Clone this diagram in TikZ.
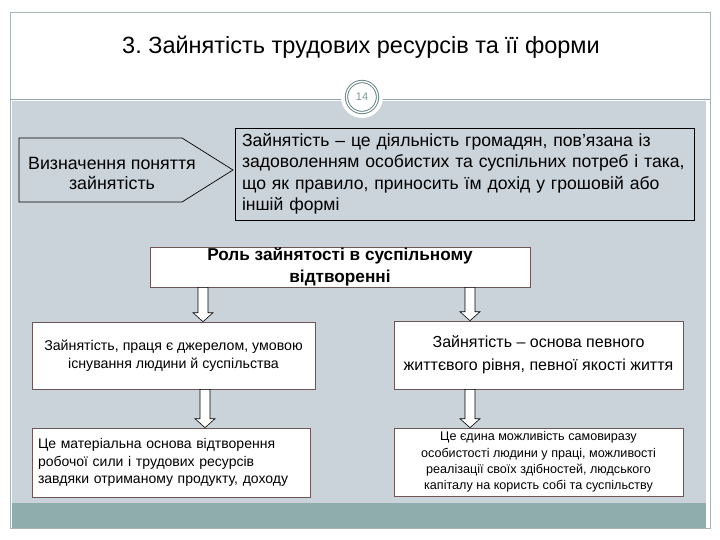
\documentclass[tikz,border=0pt]{standalone}
\usepackage{fontspec}
\setmainfont{Liberation Sans}
\usetikzlibrary{calc}
\frenchspacing
\definecolor{panelbg}{HTML}{C9D3D9}
\definecolor{stripcol}{HTML}{8FADAC}
\definecolor{framecol}{HTML}{A9B4B4}
\definecolor{ringcol}{HTML}{5F7F7E}
\definecolor{boxline}{HTML}{6E5656}
\definecolor{shapefill}{HTML}{CBD4DA}
\newcommand{\blockdown}[3]{%
  \draw[barrow] let \p1=(#1,0 |- #2.south), \p2=(#1,0 |- #3.north) in
   ({\x1-5pt},\y1) -- ({\x1-5pt},{\y2+9pt}) -- ({\x1-10pt},{\y2+9pt}) -- (\x1,\y2)
   -- ({\x1+10pt},{\y2+9pt}) -- ({\x1+5pt},{\y2+9pt}) -- ({\x1+5pt},\y1) -- cycle;}
\begin{document}
\begin{tikzpicture}[x=1pt,y=-1pt,
  wbox/.style={draw=boxline, fill=white, line width=0.6pt, inner sep=0pt},
  barrow/.style={draw=black, fill=white, line width=0.6pt, line join=miter},
  gbox/.style={draw=black, fill=shapefill, line width=0.7pt}]
\useasboundingbox (0,0) rectangle (720,540);
\fill[white] (0,0) rectangle (720,540);
% panel
\fill[panelbg] (12,101) rectangle (706,503);
\fill[stripcol] (12,503) rectangle (706,528);
\draw[framecol, line width=0.6pt] (10,12) rectangle (710,528);
\draw[ringcol!70, line width=0.8pt] (10,99) -- (710,99);
% title
\node[font=\fontsize{23.5}{28}\selectfont] (title) at (361,47) {3. Зайнятість трудових ресурсів та її форми};
% page number circle
\fill[white] (362,97) circle (21);
\node[circle, draw=ringcol, double=white, double distance=1.4pt, line width=0.9pt,
      fill=white, minimum size=31pt, inner sep=0pt, text=ringcol!80,
      font=\fontsize{11}{13}\selectfont]
  (num) at (362,97) {14};
% pentagon
\draw[gbox] (19,138) -- (182,138) -- (233,170) -- (182,202) -- (19,202) -- cycle;
\node[align=center, font=\fontsize{17.8}{20}\selectfont] (defhead) at (112,173.5)
  {Визначення поняття\\зайнятість};
% definition
\node[gbox, minimum width=459pt, minimum height=92pt, text width=445pt,
      inner xsep=7pt, align=left, font=\fontsize{17.6}{21.5}\selectfont] (def) at (464.5,174)
  {Зайнятість -- це діяльність громадян, пов’язана із\\
   задоволенням особистих та суспільних потреб і така,\\
   що як правило, приносить їм дохід у грошовій або\\
   іншій формі};
% role
\node[wbox, minimum width=380pt, minimum height=40pt, align=center,
      font=\fontsize{17.2}{22}\selectfont\bfseries] (role) at (340,267)
  {Роль зайнятості в суспільному\\відтворенні};
% middle row
\node[wbox, minimum width=283pt, minimum height=67pt, align=center,
      font=\fontsize{14.2}{18.5}\selectfont] (a) at (173.5,355.5)
  {Зайнятість, праця є джерелом, умовою\\існування людини й суспільства};
\node[wbox, minimum width=289pt, minimum height=68pt, align=center,
      font=\fontsize{16}{23}\selectfont] (b) at (538.5,355)
  {Зайнятість -- основа певного\\життєвого рівня, певної якості життя};
% bottom row
\node[wbox, minimum width=278pt, minimum height=69pt, text width=266pt, inner xsep=6pt,
      align=left, font=\fontsize{14}{17.5}\selectfont] (c) at (171,462.5)
  {Це матеріальна основа відтворення\\робочої сили і трудових ресурсів\\завдяки отриманому продукту, доходу};
\node[wbox, minimum width=289pt, minimum height=68pt, align=center,
      font=\fontsize{12.6}{16.4}\selectfont] (d) at (538.5,462)
  {Це єдина можливість самовиразу\\особистості людини у праці, можливості\\реалізації своїх здібностей, людського\\капіталу на користь собі та суспільству};
% block arrows
\blockdown{203}{role}{a}
\blockdown{470}{role}{b}
\blockdown{205}{a}{c}
\blockdown{470}{b}{d}
\end{tikzpicture}
\end{document}
